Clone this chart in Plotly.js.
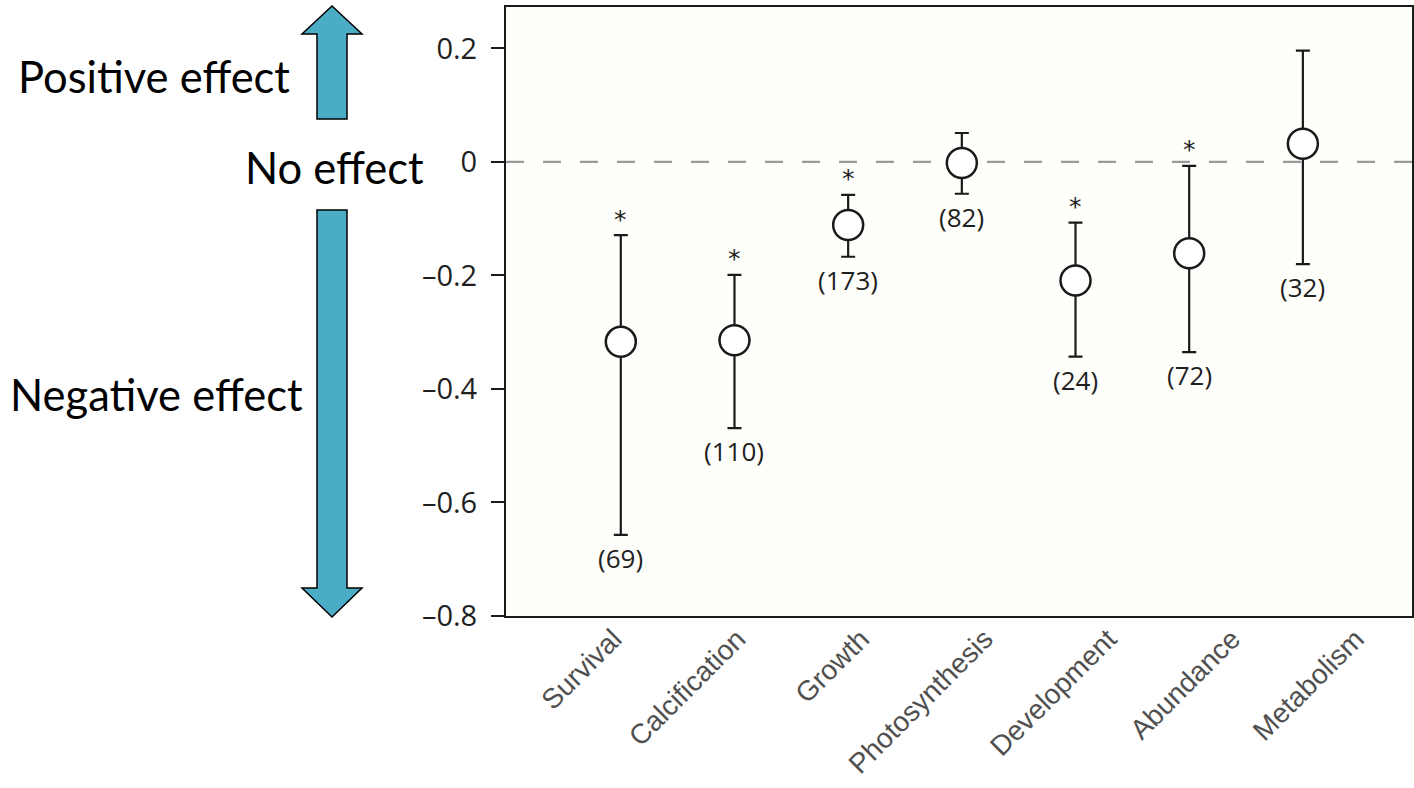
<!DOCTYPE html>
<html>
<head>
<meta charset="utf-8">
<script src="https://cdn.plot.ly/plotly-3.0.1.min.js"></script>
<style>html,body{margin:0;padding:0;background:#fff;}#chart{width:1414px;height:788px;}</style>
</head>
<body>
<div id="chart"></div>
<script>
// ---- data ----
var categories = ['Survival', 'Calcification', 'Growth', 'Photosynthesis', 'Development', 'Abundance', 'Metabolism'];
var meanEffect = [-0.317, -0.314, -0.111, -0.002, -0.209, -0.161, 0.032];
var upperCI    = [-0.129, -0.199, -0.058, 0.051, -0.107, -0.007, 0.196];
var lowerCI    = [-0.657, -0.469, -0.167, -0.056, -0.343, -0.335, -0.180];
var sampleSize = ['(69)', '(110)', '(173)', '(82)', '(24)', '(72)', '(32)'];
var significant = [true, true, true, false, true, true, false];
var yTickVals  = [0.2, 0, -0.2, -0.4, -0.6, -0.8];
var yTickText  = ['0.2', '0', '\u20130.2', '\u20130.4', '\u20130.6', '\u20130.8'];

// ---- layout geometry (pixels) ----
var W = 1414, H = 788;
var M = {l: 506, r: 2, t: 7, b: 172};
var PW = W - M.l - M.r, PH = H - M.t - M.b;
function px(x) { return (x - M.l) / PW; }
function py(y) { return (H - M.b - y) / PH; }
function path(pts) {
  return 'M' + pts.map(function (p) { return px(p[0]).toFixed(5) + ',' + py(p[1]).toFixed(5); }).join(' L') + ' Z';
}

var errPlus = meanEffect.map(function (m, i) { return upperCI[i] - m; });
var errMinus = meanEffect.map(function (m, i) { return m - lowerCI[i]; });

var trace = {
  type: 'scatter',
  mode: 'markers',
  x: categories,
  y: meanEffect,
  marker: {symbol: 'circle', size: 30, color: '#ffffff', line: {color: '#1a1a1a', width: 2.5}},
  error_y: {type: 'data', symmetric: false, array: errPlus, arrayminus: errMinus,
            color: '#1a1a1a', thickness: 2.2, width: 7},
  hoverinfo: 'x+y',
  cliponaxis: false
};

// invisible carrier for the (slightly wider spaced) category labels of the original figure
var labelTrace = {
  type: 'scatter', mode: 'markers', x: categories, y: meanEffect,
  xaxis: 'x2', yaxis: 'y', marker: {opacity: 0}, hoverinfo: 'skip', showlegend: false
};

var annotations = [];
categories.forEach(function (c, i) {
  annotations.push({x: c, y: lowerCI[i], xref: 'x', yref: 'y', text: sampleSize[i], showarrow: false,
    yshift: -23, yanchor: 'middle', font: {family: 'Open Sans, sans-serif', size: 26, color: '#1f1f1f'}});
  if (significant[i]) {
    annotations.push({x: c, y: upperCI[i], xref: 'x', yref: 'y', text: '*', showarrow: false,
      yshift: 16, yanchor: 'middle', font: {family: 'DejaVu Sans, sans-serif', size: 25, color: '#1f1f1f'}});
  }
});

var sideFont = {family: 'Lato, Carlito, sans-serif', size: 43.5, color: '#000'};
annotations.push({xref: 'paper', yref: 'paper', x: px(16), y: py(76), xanchor: 'left', yanchor: 'middle',
  text: 'Positive effect', showarrow: false, font: sideFont});
annotations.push({xref: 'paper', yref: 'paper', x: px(243), y: py(167), xanchor: 'left', yanchor: 'middle',
  text: 'No effect', showarrow: false, font: sideFont});
annotations.push({xref: 'paper', yref: 'paper', x: px(8), y: py(394), xanchor: 'left', yanchor: 'middle',
  text: 'Negative effect', showarrow: false, font: sideFont});

var arrowStyle = {fillcolor: '#4BACC6', line: {color: '#000', width: 1.5}};
var shapes = [
  {type: 'line', xref: 'paper', yref: 'y', x0: 0, x1: 1, y0: 0, y1: 0, layer: 'below',
   line: {color: '#9a9a9a', width: 2.3, dash: '18px,19px'}},
  Object.assign({type: 'path', xref: 'paper', yref: 'paper', layer: 'above',
    path: path([[332, 6], [362, 34], [347, 34], [347, 119], [317, 119], [317, 34], [302, 34]])}, arrowStyle),
  Object.assign({type: 'path', xref: 'paper', yref: 'paper', layer: 'above',
    path: path([[317, 210], [347, 210], [347, 588], [362, 588], [332, 617], [302, 588], [317, 588]])}, arrowStyle)
];

var layout = {
  width: W, height: H,
  margin: M,
  paper_bgcolor: '#ffffff',
  plot_bgcolor: '#fefefb',
  showlegend: false,
  xaxis: {
    type: 'category', range: [-1.01, 6.96], fixedrange: true,
    showline: true, mirror: true, linecolor: '#1a1a1a', linewidth: 2,
    showgrid: false, zeroline: false, ticks: '', showticklabels: false
  },
  xaxis2: {
    type: 'category', overlaying: 'x', anchor: 'y', side: 'bottom',
    range: [-0.87, 6.454], fixedrange: true,
    showline: false, showgrid: false, zeroline: false, ticks: '',
    tickangle: -45, ticklabelstandoff: 0,
    tickfont: {family: 'Liberation Sans, Arial, sans-serif', size: 28, color: '#505050'}
  },
  yaxis: {
    range: [-0.8, 0.273], fixedrange: true,
    showline: true, mirror: true, linecolor: '#1a1a1a', linewidth: 2,
    showgrid: false, zeroline: false,
    ticks: 'outside', ticklen: 13, tickwidth: 2, tickcolor: '#1a1a1a',
    tickvals: yTickVals, ticktext: yTickText, ticklabelstandoff: 8,
    tickfont: {family: 'Open Sans, sans-serif', size: 29, color: '#1f1f1f'}
  },
  annotations: annotations,
  shapes: shapes
};

Plotly.newPlot('chart', [trace, labelTrace], layout, {displayModeBar: false, staticPlot: true});
</script>
</body>
</html>
